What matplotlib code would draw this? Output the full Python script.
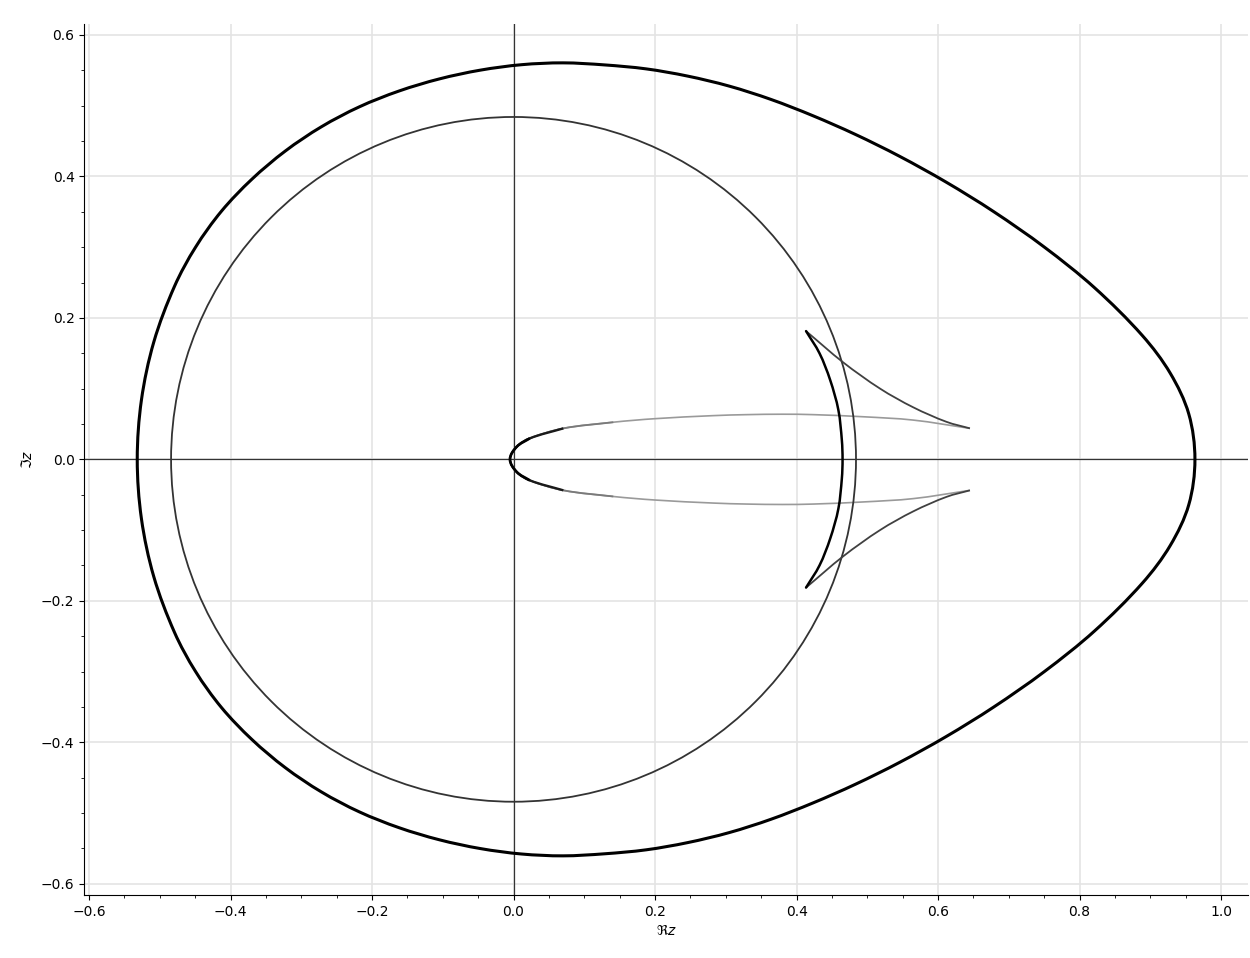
import matplotlib
matplotlib.use("Agg")
import matplotlib.pyplot as plt
import matplotlib.patches as mpatches
from matplotlib.path import Path
from matplotlib.ticker import MultipleLocator, AutoMinorLocator
import numpy as np

# ── curve samples (upper half, y >= 0) ────────────────────────────────

# outer egg-shaped loop, from left tip over the top to the right tip
outer_x = [-0.5318, -0.5259, -0.5084, -0.4792, -0.4494, -0.4128, -0.3698,
           -0.3225, -0.2716, -0.2178, -0.1618, -0.1048, -0.0469, 0.0114,
           0.0700, 0.1286, 0.1873, 0.2460, 0.3049, 0.3638, 0.4230, 0.4832,
           0.5452, 0.6112, 0.6784, 0.7501, 0.8209, 0.8887, 0.9281, 0.9543,
           0.9630]
outer_y = [0.0, 0.0838, 0.1659, 0.2445, 0.2999, 0.3508, 0.3960,
           0.4359, 0.4701, 0.4984, 0.5207, 0.5378, 0.5502, 0.5579,
           0.5605, 0.5576, 0.5520, 0.5418, 0.5276, 0.5088, 0.4858, 0.4593,
           0.4286, 0.3920, 0.3503, 0.3001, 0.2428, 0.1750, 0.1218, 0.0642,
           0.0]

circle_r = 0.484

# thick crescent arc between the two left cusps
cres_x = [0.4134, 0.4325, 0.4475, 0.4591, 0.464, 0.465]
cres_y = [0.1813, 0.1498, 0.1121, 0.0697, 0.027, 0.0]

# thin concave arc from left cusp to right cusp
thin_x = [0.4134, 0.466, 0.518, 0.565, 0.612, 0.645]
thin_y = [0.1813, 0.137, 0.100, 0.0735, 0.053, 0.0438]

# flat inner loop from origin to right cusp
ell_x = [-0.005, 0.0045, 0.023, 0.0704, 0.141, 0.200, 0.2824,
         0.3296, 0.380, 0.4237, 0.4944, 0.565, 0.645]
ell_y = [0.0, 0.0178, 0.0297, 0.0438, 0.0525, 0.0575, 0.0618,
         0.0632, 0.0638, 0.0632, 0.0602, 0.0555, 0.0438]


def mirrored(xs, ys):
    """upper half + mirrored lower half (curves are symmetric in the real axis)"""
    xs, ys = np.asarray(xs), np.asarray(ys)
    return (np.concatenate([xs, xs[::-1][1:]]),
            np.concatenate([ys, -ys[::-1][1:]]))


def smooth_path(xs, ys, closed=False):
    """cubic Bezier path passing through the given points"""
    P = np.column_stack([xs, ys]).astype(float)
    n = len(P)
    tang = np.zeros_like(P)
    for i in range(n):
        if closed:
            a, b = P[i - 1 if i > 0 else n - 2], P[i + 1 if i < n - 1 else 1]
        else:
            a, b = P[max(i - 1, 0)], P[min(i + 1, n - 1)]
        d = b - a
        tang[i] = d / np.hypot(*d)
    verts, codes = [P[0]], [Path.MOVETO]
    for i in range(n - 1):
        L = np.hypot(*(P[i + 1] - P[i])) / 3
        verts += [P[i] + tang[i] * L, P[i + 1] - tang[i + 1] * L, P[i + 1]]
        codes += [Path.CURVE4] * 3
    return Path(verts, codes)


def add_curve(ax, path, **kw):
    ax.add_patch(mpatches.PathPatch(path, fill=False, **kw))


fig = plt.figure(figsize=(12.5, 9.58), dpi=100)
ax = fig.add_axes([0.0674, 0.0658, 0.9310, 0.9092])

ax.set_xlim(-0.6067, 1.038)
ax.set_ylim(-0.6158, 0.6155)

ax.xaxis.set_major_locator(MultipleLocator(0.2))
ax.yaxis.set_major_locator(MultipleLocator(0.2))
ax.xaxis.set_minor_locator(AutoMinorLocator(4))
ax.yaxis.set_minor_locator(AutoMinorLocator(4))
ax.grid(True, which="major", color="#e4e4e4", linewidth=1.2, zorder=0)
ax.set_axisbelow(True)

for side in ("top", "right"):
    ax.spines[side].set_visible(False)
ax.tick_params(labelsize=10)

ax.axhline(0, color="#333333", linewidth=0.9, zorder=1)
ax.axvline(0, color="#333333", linewidth=0.9, zorder=1)

# outer loop
ox, oy = mirrored(outer_x, outer_y)
add_curve(ax, smooth_path(ox, oy, closed=True), edgecolor="black",
          linewidth=2.2, zorder=4)

# circle
ax.add_patch(mpatches.Circle((0, 0), circle_r, fill=False,
                             edgecolor="#333333", linewidth=1.3, zorder=3))

# crescent
cx, cy = mirrored(cres_x, cres_y)
add_curve(ax, smooth_path(cx, cy), edgecolor="black", linewidth=1.8,
          zorder=4, capstyle="round")

# thin cusp arcs
tx, ty = np.asarray(thin_x), np.asarray(thin_y)
for sgn in (1, -1):
    add_curve(ax, smooth_path(tx, sgn * ty), edgecolor="#404040",
              linewidth=1.3, zorder=3)

# inner flat loop: light gray, darkening towards the origin
ex, ey = np.asarray(ell_x), np.asarray(ell_y)
lx = np.concatenate([ex[::-1], ex[1:]])
ly = np.concatenate([ey[::-1], -ey[1:]])
add_curve(ax, smooth_path(lx, ly), edgecolor="#9a9a9a", linewidth=1.2,
          zorder=2)
for k, col, w in ((5, "#7a7a7a", 1.3), (4, "#1a1a1a", 1.7), (3, "black", 1.9)):
    add_curve(ax, smooth_path(np.concatenate([ex[:k][::-1], ex[1:k]]),
                              np.concatenate([ey[:k][::-1], -ey[1:k]])),
              edgecolor=col, linewidth=w, zorder=3, capstyle="butt")

ax.set_xlabel(r"$\Re z$", fontsize=10)
ax.set_ylabel(r"$\Im z$", fontsize=10)

fig.savefig("out.png", dpi=100)
